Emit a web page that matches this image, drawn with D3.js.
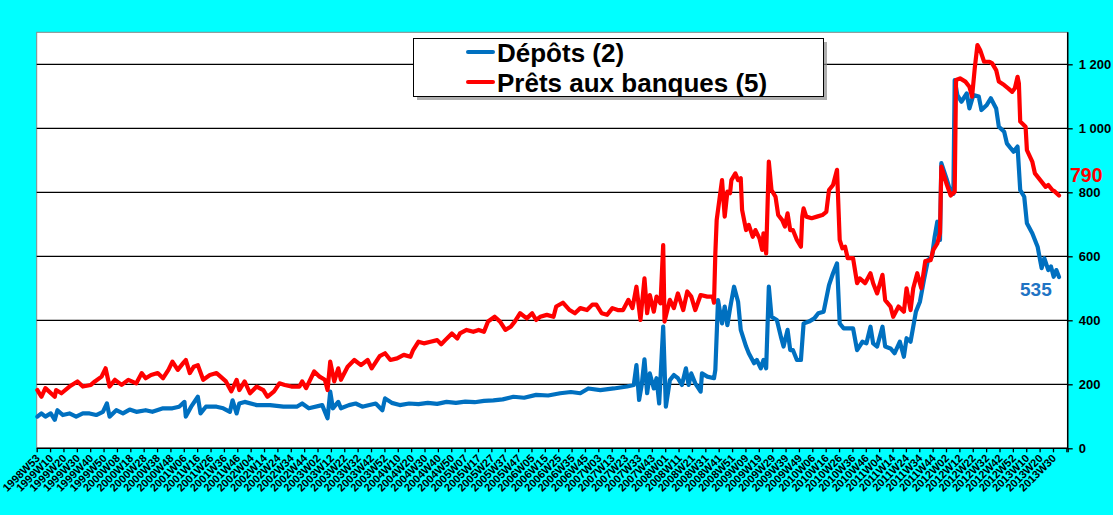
<!DOCTYPE html>
<html>
<head>
<meta charset="utf-8">
<script src="https://cdn.jsdelivr.net/npm/d3@7"></script>
<style>
  body { margin: 0; background: #00ffff; }
  svg { display: block; font-family: "Liberation Sans", Arial, sans-serif; }
</style>
</head>
<body>
<div id="chart"></div>
<script>
const width = 1113;
const height = 515;

// category axis labels, one every 10 weeks
const weekLabels = [
  "1998W53","1999W10","1999W20","1999W30","1999W40","1999W50",
  "2000W08","2000W18","2000W28","2000W38","2000W48",
  "2001W06","2001W16","2001W26","2001W36","2001W46",
  "2002W04","2002W14","2002W24","2002W34","2002W44",
  "2003W02","2003W12","2003W22","2003W32","2003W42","2003W52",
  "2004W10","2004W20","2004W30","2004W40","2004W50",
  "2005W07","2005W17","2005W27","2005W37","2005W47",
  "2006W05","2006W15","2006W25","2006W35","2006W45",
  "2007W03","2007W13","2007W23","2007W33","2007W43",
  "2008W01","2008W11","2008W21","2008W31","2008W41","2008W51",
  "2009W09","2009W19","2009W29","2009W39","2009W49",
  "2010W06","2010W16","2010W26","2010W36","2010W46",
  "2011W04","2011W14","2011W24","2011W34","2011W44",
  "2012W02","2012W12","2012W22","2012W32","2012W42","2012W52",
  "2013W10","2013W20","2013W30"
];
const nWeeks = 771;
const yTicks = [0, 200, 400, 600, 800, 1000, 1200];

// [week index from 1998W53, value]
const depots = [
  [0,99],[3,109],[6,99],[10,109],[13,89],[15,119],[19,104],[24,109],[29,99],[34,109],[39,109],[44,104],
  [49,114],[52,140],[54,99],[59,119],[64,109],[69,121],[74,114],[81,119],[86,114],[94,125],[101,125],
  [106,130],[110,145],[111,99],[115,130],[120,161],[122,109],[126,130],[134,130],[139,125],[144,114],
  [146,150],[149,109],[151,140],[155,145],[164,135],[174,135],[184,130],[194,130],[198,140],[203,125],
  [213,135],[217,94],[219,177],[221,125],[225,145],[227,125],[233,135],[238,140],[243,130],[253,140],
  [258,119],[260,156],[265,142],[271,135],[278,140],[285,138],[292,142],[299,139],[306,145],[313,142],
  [320,146],[327,144],[334,148],[341,150],[348,153],[356,161],[364,158],[373,167],[382,165],[391,172],
  [399,176],[406,172],[412,187],[421,182],[431,187],[441,193],[446,198],[448,260],[450,151],[452,200],
  [454,278],[456,172],[458,234],[461,187],[463,219],[465,140],[468,380],[470,130],[473,213],[476,229],
  [479,219],[482,198],[485,250],[487,198],[489,234],[492,203],[496,177],[497,234],[501,224],[506,219],
  [507,245],[509,463],[512,390],[514,443],[516,385],[518,437],[521,505],[524,458],[526,370],[530,318],
  [532,297],[536,266],[538,276],[541,250],[543,276],[545,250],[547,505],[549,411],[553,401],[556,349],
  [558,318],[561,370],[563,307],[565,307],[568,276],[571,276],[573,390],[577,396],[581,406],[584,422],
  [588,427],[592,510],[595,547],[598,578],[600,390],[603,375],[606,375],[610,375],[613,307],[617,333],
  [620,328],[623,380],[625,328],[628,318],[632,380],[634,318],[638,312],[641,297],[645,333],[648,286],
  [650,344],[653,333],[657,427],[660,458],[663,526],[666,588],[669,599],[671,661],[673,708],[675,651],
  [676,891],[680,841],[683,800],[685,795],[686,1151],[688,1104],[691,1083],[695,1109],[697,1062],
  [700,1104],[704,1099],[706,1057],[710,1073],[713,1094],[717,1062],[719,1005],[723,989],[725,953],
  [728,937],[730,927],[733,943],[735,807],[738,786],[740,703],[744,672],[748,630],[751,563],[753,594],
  [756,557],[758,568],[760,536],[762,557],[764,535]
];

const prets = [
  [0,182],[3,161],[6,188],[13,161],[14,182],[18,172],[24,193],[30,209],[34,193],[40,198],[43,209],
  [48,224],[51,250],[54,193],[58,214],[63,198],[68,214],[74,203],[78,235],[81,219],[85,229],[90,235],
  [94,219],[98,245],[101,271],[105,245],[109,266],[111,276],[114,235],[117,255],[120,260],[124,214],
  [129,229],[134,235],[137,224],[141,209],[145,178],[149,214],[151,182],[155,209],[159,172],[164,193],
  [169,182],[172,161],[177,178],[181,203],[185,198],[190,193],[196,193],[198,209],[201,188],[207,240],
  [211,224],[215,214],[217,182],[219,271],[222,209],[225,250],[227,214],[232,255],[237,276],[242,260],
  [247,276],[250,250],[256,288],[260,297],[264,276],[269,281],[274,292],[279,286],[281,307],[285,333],
  [289,328],[294,333],[299,338],[302,325],[305,338],[310,359],[314,343],[316,359],[321,370],[326,364],
  [330,370],[334,364],[337,396],[342,411],[346,396],[350,370],[354,380],[357,396],[361,422],[366,406],
  [370,422],[373,401],[376,411],[381,417],[386,411],[388,443],[393,455],[398,432],[402,422],[406,438],
  [411,432],[415,449],[418,449],[422,422],[426,417],[430,438],[434,432],[438,432],[442,464],[445,438],
  [448,505],[451,401],[454,531],[456,422],[458,479],[461,427],[463,474],[466,453],[468,635],[469,396],
  [473,464],[476,438],[479,484],[483,432],[486,490],[489,474],[492,432],[496,479],[501,474],[505,474],
  [506,455],[507,609],[508,713],[510,776],[512,838],[514,724],[516,802],[518,797],[519,838],[522,859],
  [524,838],[526,844],[527,745],[530,682],[532,698],[535,661],[537,682],[540,656],[542,620],[543,672],
  [545,609],[547,896],[549,807],[552,786],[554,729],[557,713],[559,693],[561,734],[563,682],[565,682],
  [568,651],[571,630],[572,724],[573,750],[575,724],[579,719],[583,724],[587,729],[590,739],[592,807],
  [595,823],[598,870],[600,651],[602,625],[604,630],[606,594],[610,594],[613,516],[615,531],[619,516],
  [623,547],[625,516],[628,484],[632,542],[634,463],[638,443],[640,411],[644,443],[648,427],[650,500],
  [653,432],[655,500],[658,547],[661,500],[664,585],[668,588],[670,620],[673,640],[675,672],[676,880],
  [680,825],[683,790],[686,802],[687,1151],[690,1156],[694,1146],[697,1130],[699,1099],[701,1188],
  [703,1260],[705,1245],[708,1208],[712,1208],[714,1203],[717,1182],[719,1146],[723,1135],[726,1125],
  [729,1114],[731,1125],[733,1161],[734,1140],[735,1021],[739,1005],[740,932],[744,896],[746,859],
  [750,838],[754,817],[756,823],[759,807],[761,802],[764,790]
];

const seriesNames = ["Dépôts (2)", "Prêts aux banques (5)"];
const seriesColors = ["#0070c0", "#ff0000"];

const plotLeft = 36.7, plotRight = 1067.7, plotTop = 32.3, plotBottom = 448.3;

const x = d3.scaleLinear().domain([0, nWeeks]).range([plotLeft, plotRight]);
const y = d3.scaleLinear().domain([0, 1300]).range([plotBottom, plotTop]);

const svg = d3.select("#chart")
    .append("svg")
    .attr("width", width)
    .attr("height", height);

svg.append("rect")
    .attr("width", width)
    .attr("height", height)
    .attr("fill", "#00ffff");

// plot area
svg.append("rect")
    .attr("x", plotLeft)
    .attr("y", plotTop)
    .attr("width", plotRight - plotLeft)
    .attr("height", plotBottom - plotTop)
    .attr("fill", "#fff")
    .attr("stroke", "#888")
    .attr("stroke-width", 1);

// horizontal gridlines
svg.append("g")
    .selectAll("line")
    .data(yTicks.filter(d => d > 0))
    .enter()
    .append("line")
    .attr("x1", plotLeft)
    .attr("x2", plotRight)
    .attr("y1", d => y(d))
    .attr("y2", d => y(d))
    .attr("stroke", "#000")
    .attr("stroke-width", 1.3);

// lines
const line = d3.line()
    .x(d => x(d[0] + 0.5))
    .y(d => y(d[1]));

[depots, prets].forEach((data, i) => {
    svg.append("path")
        .datum(data)
        .attr("fill", "none")
        .attr("stroke", seriesColors[i])
        .attr("stroke-width", 4.2)
        .attr("stroke-linejoin", "round")
        .attr("stroke-linecap", "round")
        .attr("d", line);
});

// right axis
const fmt = d3.formatLocale({ decimal: ",", thousands: " ", grouping: [3], currency: ["", "€"] }).format(",d");

const yAxis = svg.append("g")
    .attr("transform", `translate(${plotRight},0)`)
    .call(d3.axisRight(y).tickValues(yTicks).tickSize(5).tickPadding(6).tickFormat(fmt));
yAxis.select(".domain").attr("stroke", "#000").attr("stroke-width", 1.5).attr("d", `M0,${plotTop}V${plotBottom}`);
yAxis.selectAll(".tick line").attr("stroke", "#000").attr("stroke-width", 1.3);
yAxis.selectAll("text")
    .style("font-size", "13px")
    .style("font-weight", "bold")
    .attr("fill", "#000");

// bottom axis: tick marks at category boundaries
const xTicks = d3.range(0, nWeeks, 10).concat([nWeeks]);
const xAxisTicks = svg.append("g")
    .attr("transform", `translate(0,${plotBottom})`)
    .call(d3.axisBottom(x).tickValues(xTicks).tickSize(4).tickFormat(""));
xAxisTicks.select(".domain").attr("stroke", "#000").attr("stroke-width", 1.5).attr("d", `M${plotLeft},0H${plotRight}`);
xAxisTicks.selectAll(".tick line").attr("stroke", "#000").attr("stroke-width", 1.3);

// bottom axis labels at category centres
const xAxisLabels = svg.append("g")
    .attr("transform", `translate(0,${plotBottom})`)
    .call(d3.axisBottom(x)
        .tickValues(weekLabels.map((d, i) => i * 10 + 0.5))
        .tickSize(0)
        .tickFormat((d, i) => weekLabels[i]));
xAxisLabels.select(".domain").remove();
xAxisLabels.selectAll("text")
    .attr("y", 0)
    .attr("dy", "0.35em")
    .attr("transform", "translate(0,8) rotate(-45)")
    .style("text-anchor", "end")
    .style("font-size", "11px")
    .style("font-weight", "bold")
    .attr("fill", "#000");

// last value annotations
svg.append("text")
    .attr("x", 1070)
    .attr("y", 181.5)
    .attr("fill", "#ff0000")
    .style("font-size", "19.5px")
    .style("font-weight", "bold")
    .text(prets[prets.length - 1][1]);

svg.append("text")
    .attr("x", 1020)
    .attr("y", 296)
    .attr("fill", "#1f74c4")
    .style("font-size", "19px")
    .style("font-weight", "bold")
    .text(depots[depots.length - 1][1]);

// legend
const legend = svg.append("g");
legend.append("rect")
    .attr("x", 417)
    .attr("y", 42)
    .attr("width", 410)
    .attr("height", 58)
    .attr("fill", "#8c8c8c")
    .attr("opacity", 0.7);
legend.append("rect")
    .attr("x", 413.5)
    .attr("y", 38.5)
    .attr("width", 410)
    .attr("height", 58)
    .attr("fill", "#fff")
    .attr("stroke", "#000")
    .attr("stroke-width", 1);

seriesNames.forEach((name, i) => {
    const ly = 52 + i * 30;
    legend.append("line")
        .attr("x1", 468)
        .attr("x2", 493)
        .attr("y1", ly)
        .attr("y2", ly)
        .attr("stroke", seriesColors[i])
        .attr("stroke-width", 4)
        .attr("stroke-linecap", "round");
    legend.append("text")
        .attr("x", 497)
        .attr("y", ly + 9.5)
        .style("font-size", "26px")
        .style("font-weight", "bold")
        .attr("fill", "#000")
        .text(name);
});
</script>
</body>
</html>
